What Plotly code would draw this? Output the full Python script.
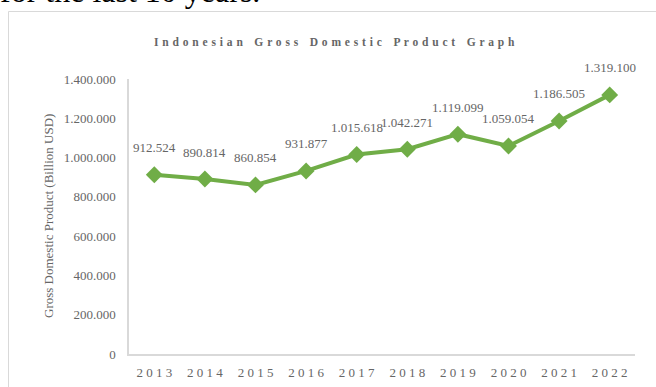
import plotly.graph_objects as go

years = ["2013", "2014", "2015", "2016", "2017", "2018", "2019", "2020", "2021", "2022"]
gdp = [912524, 890814, 860854, 931877, 1015618, 1042271, 1119099, 1059054, 1186505, 1319100]
y_ticks = [0, 200000, 400000, 600000, 800000, 1000000, 1200000, 1400000]

W, H = 656, 387
L, R, T, B = 129, 21, 79, 33
PW, PH = W - L - R, H - T - B

def px(x):
    return (x - L) / PW

def py(y):
    return (H - B - y) / PH

FONT = "Liberation Serif, Times New Roman, serif"
GRAY = "#666666"
GREEN = "#70AD47"

def fmt(v):
    return f"{v:,}".replace(",", ".")

def spaced(s, sep=" "):
    return sep.join(s)

fig = go.Figure()
fig.add_trace(go.Scatter(
    x=years, y=gdp, mode="lines+markers",
    line=dict(color=GREEN, width=4),
    marker=dict(symbol="diamond", size=13, color=GREEN),
    hoverinfo="skip", showlegend=False,
))

for i, v in enumerate(gdp):
    fig.add_annotation(x=i, y=v, xref="x", yref="y", text=fmt(v), showarrow=False, yshift=27,
                       yanchor="middle", xanchor="center",
                       font=dict(family=FONT, size=13, color=GRAY))

title = "\u00a0\u00a0\u00a0\u00a0".join(spaced(w, " \u200a") for w in "Indonesian Gross Domestic Product Graph".split())

fig.add_annotation(xref="paper", yref="paper", x=px(334), y=py(42), text="<b>" + title + "</b>",
                   showarrow=False, xanchor="center", yanchor="middle",
                   font=dict(family=FONT, size=11.5, color=GRAY))

fig.add_annotation(xref="paper", yref="paper", x=px(48), y=py(216),
                   text="Gross Domestic Product (Billion USD)", textangle=-90,
                   showarrow=False, xanchor="center", yanchor="middle",
                   font=dict(family=FONT, size=13, color=GRAY))

fig.add_annotation(xref="paper", yref="paper", x=px(-2), y=py(11),
                   text="for the last 10 years.", showarrow=False,
                   xanchor="left", yanchor="bottom",
                   font=dict(family=FONT, size=32, color="#000000"))

fig.add_shape(type="rect", xref="paper", yref="paper",
              x0=px(8.5), x1=px(700), y0=py(11.5), y1=py(420),
              line=dict(color="#D9D9D9", width=1), fillcolor="rgba(0,0,0,0)", layer="below")

fig.update_layout(
    width=W, height=H,
    margin=dict(l=L, r=R, t=T, b=B, autoexpand=False),
    plot_bgcolor="white", paper_bgcolor="white",
    separators=",.",
    font=dict(family=FONT, size=13, color=GRAY),
)
fig.update_xaxes(
    type="category", range=[-0.5, len(years) - 0.5],
    tickvals=years, ticktext=[spaced(y) for y in years],
    showgrid=False, showline=True, linecolor="#D9D9D9", linewidth=1.5,
    ticks="", ticklabelstandoff=6, zeroline=False, automargin=False,
    tickfont=dict(family=FONT, size=13, color=GRAY),
)
fig.update_yaxes(
    range=[0, 1400000], tickvals=y_ticks, tickformat=",d",
    showgrid=False, showline=True, linecolor="#D9D9D9", linewidth=1.5,
    ticks="", ticklabelstandoff=9, zeroline=False, automargin=False,
    tickfont=dict(family=FONT, size=13, color=GRAY),
)

fig.write_html("out.html", config={"displayModeBar": False},
               post_script="document.body.style.margin='0px';document.body.style.overflow='hidden';")
